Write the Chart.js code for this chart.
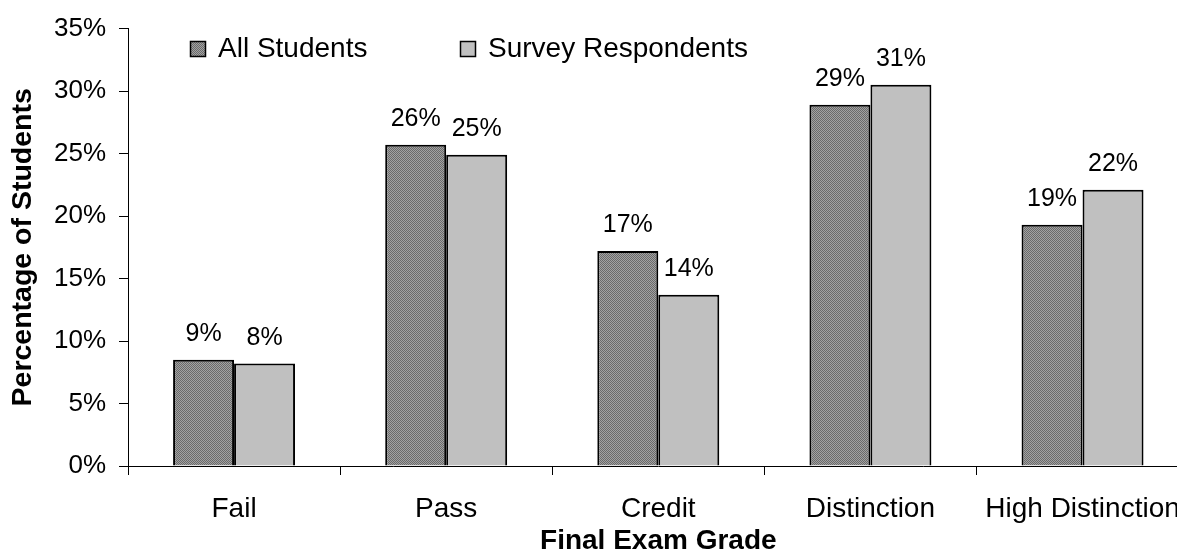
<!DOCTYPE html>
<html>
<head>
<meta charset="utf-8">
<script src="https://cdn.jsdelivr.net/npm/chart.js@4/dist/chart.umd.min.js"></script>
<style>
  html, body { margin: 0; padding: 0; background: #fff; overflow: hidden; }
  #wrap { position: relative; width: 1197px; height: 552px; }
</style>
</head>
<body>
<div id="wrap"><canvas id="chart"></canvas></div>
<script>
// Share of students by final exam grade (percent)
const categories = ['Fail', 'Pass', 'Credit', 'Distinction', 'High Distinction'];
const allStudents = [8.5, 25.7, 17.2, 28.9, 19.3];
const surveyRespondents = [8.2, 24.9, 13.7, 30.5, 22.1];
const seriesNames = ['All Students', 'Survey Respondents'];
const yTickValues = [0, 5, 10, 15, 20, 25, 30, 35];

const FONT = '"Liberation Sans", Arial, Helvetica, sans-serif';

// fine dithered grey fill for the first series
function ditherPattern() {
  const c = document.createElement('canvas');
  c.width = 2; c.height = 2;
  const g = c.getContext('2d');
  g.fillStyle = '#a2a2a2'; g.fillRect(0, 0, 2, 2);
  g.fillStyle = '#6a6a6a';
  g.fillRect(0, 0, 1, 1); g.fillRect(1, 1, 1, 1);
  return g.createPattern(c, 'repeat');
}
const darkFill = ditherPattern();
const lightFill = '#c0c0c0';

// value labels above each bar
const valueLabels = {
  id: 'valueLabels',
  afterDatasetsDraw(chart) {
    const ctx = chart.ctx;
    ctx.save();
    ctx.font = '25px ' + FONT;
    ctx.fillStyle = '#000';
    ctx.textAlign = 'center';
    ctx.textBaseline = 'alphabetic';
    chart.data.datasets.forEach((ds, di) => {
      chart.getDatasetMeta(di).data.forEach((bar, i) => {
        ctx.fillText(Math.round(ds.data[i]) + '%', bar.x, bar.y - 19);
      });
    });
    ctx.restore();
  }
};

// legend row inside the plot area
const insideLegend = {
  id: 'insideLegend',
  afterDraw(chart) {
    const ctx = chart.ctx;
    const area = chart.chartArea;
    const starts = [62, 332];
    ctx.save();
    ctx.font = '28px ' + FONT;
    ctx.textAlign = 'left';
    ctx.textBaseline = 'alphabetic';
    chart.data.datasets.forEach((ds, di) => {
      const x = area.left + starts[di];
      const y = 41;
      ctx.fillStyle = ds.backgroundColor;
      ctx.fillRect(x, y, 16, 16);
      ctx.strokeStyle = '#000';
      ctx.lineWidth = 1.5;
      ctx.strokeRect(x + 0.5, y + 0.5, 15, 15);
      ctx.fillStyle = '#000';
      ctx.fillText(ds.label, x + 28, 57);
    });
    ctx.restore();
  }
};

new Chart(document.getElementById('chart'), {
  type: 'bar',
  data: {
    labels: categories,
    datasets: [
      {
        label: seriesNames[0],
        data: allStudents,
        backgroundColor: darkFill,
        borderColor: '#000',
        borderWidth: 2,
        borderSkipped: 'bottom'
      },
      {
        label: seriesNames[1],
        data: surveyRespondents,
        backgroundColor: lightFill,
        borderColor: '#000',
        borderWidth: 2,
        borderSkipped: 'bottom'
      }
    ]
  },
  options: {
    responsive: true,
    maintainAspectRatio: false,
    animation: false,
    layout: { padding: { top: 26, right: 2, bottom: 0, left: 0 } },
    datasets: { bar: { barPercentage: 1.0, categoryPercentage: 0.575 } },
    plugins: {
      legend: { display: false },
      tooltip: { enabled: false }
    },
    scales: {
      x: {
        grid: { display: true, drawOnChartArea: false, tickLength: 9, color: '#000', offset: true },
        border: { display: true, color: '#000', width: 1 },
        ticks: { color: '#000', font: { family: FONT, size: 28 }, padding: 17, maxRotation: 0, autoSkip: false },
        title: {
          display: true, text: 'Final Exam Grade', color: '#000',
          font: { family: FONT, size: 28, weight: 'bold', lineHeight: 1 },
          padding: { top: 0, bottom: -3 }
        },
        afterFit(scale) { scale.height = 86; }
      },
      y: {
        min: 0, max: 35,
        afterBuildTicks(scale) { scale.ticks = yTickValues.map(v => ({ value: v })); },
        grid: { display: true, drawOnChartArea: false, tickLength: 9, color: '#000' },
        border: { display: true, color: '#000', width: 1 },
        ticks: { color: '#000', font: { family: FONT, size: 26 }, padding: 13, callback: v => v + '%' },
        title: {
          display: true, text: 'Percentage of Students', color: '#000',
          font: { family: FONT, size: 28.5, weight: 'bold', lineHeight: 1 },
          padding: { top: 9, bottom: 0 }
        },
        afterFit(scale) { scale.width = 128; }
      }
    }
  },
  plugins: [valueLabels, insideLegend]
});
</script>
</body>
</html>
